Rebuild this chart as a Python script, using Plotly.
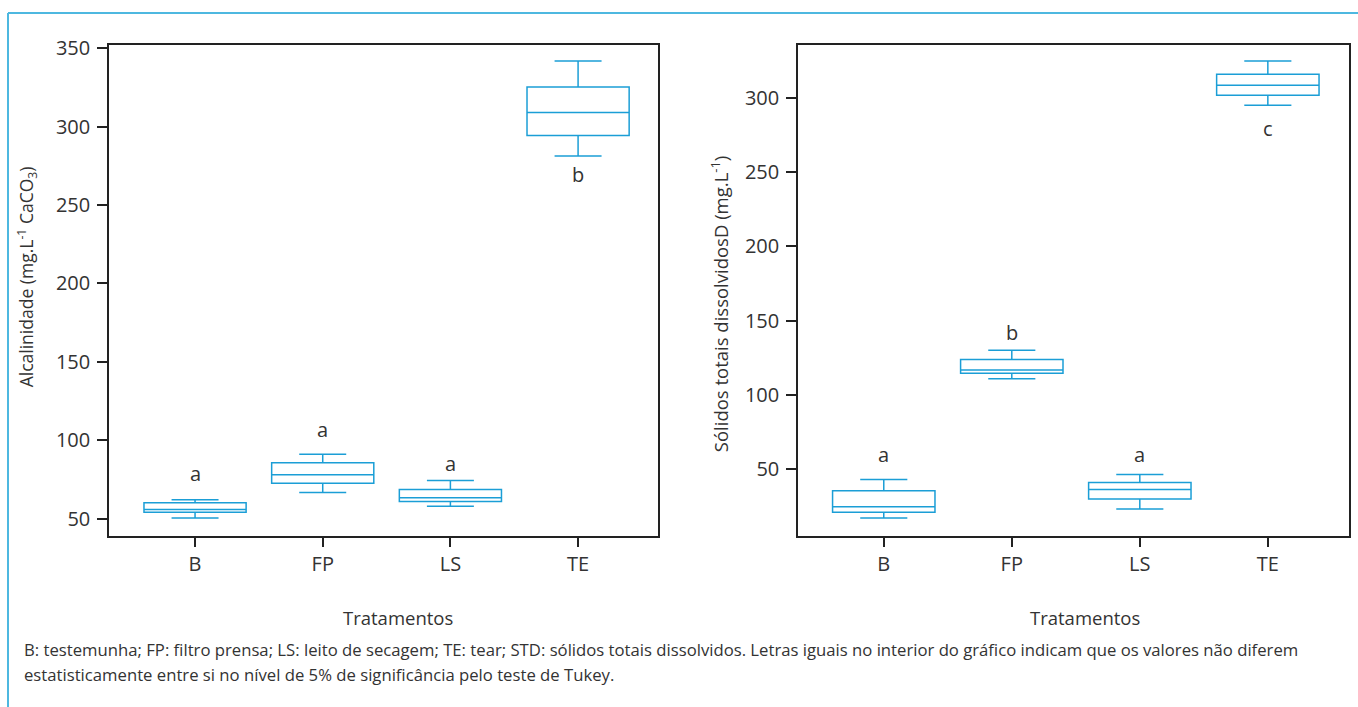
import plotly.graph_objects as go

# ---- data ----
categories = ["B", "FP", "LS", "TE"]

# Alcalinidade (mg.L-1 CaCO3)
alc_lower = [50.6, 66.8, 58.0, 281.2]
alc_q1 = [54.2, 72.7, 61.0, 294.3]
alc_median = [55.9, 78.1, 63.4, 309.0]
alc_q3 = [60.2, 85.8, 68.7, 325.2]
alc_upper = [62.1, 91.1, 74.5, 341.8]
alc_letters = ["a", "a", "a", "b"]
alc_letter_y = [78.9, 107.0, 85.3, 269.4]

# Sólidos totais dissolvidos (mg.L-1)
std_lower = [17.1, 110.8, 23.2, 295.0]
std_q1 = [20.9, 114.6, 29.9, 301.7]
std_median = [24.7, 116.8, 36.3, 308.4]
std_q3 = [35.4, 123.8, 41.0, 315.8]
std_upper = [43.0, 130.1, 46.4, 324.7]
std_letters = ["a", "b", "a", "c"]
std_letter_y = [59.6, 141.7, 59.6, 279.3]

alc_ticks = [50, 100, 150, 200, 250, 300, 350]
std_ticks = [50, 100, 150, 200, 250, 300]

caption_1 = ("B: testemunha; FP: filtro prensa; LS: leito de secagem; TE: tear; STD: sólidos totais dissolvidos. "
             "Letras iguais no interior do gráfico indicam que os valores não diferem")
caption_2 = "estatisticamente entre si no nível de 5% de significância pelo teste de Tukey."

# ---- style ----
W, H = 1358, 707
BOX = "#1B9ED6"
FRAME = "#4DB8E0"
TXT = "#333333"
FONT = "Open Sans"
WT = 400

def f(size):
    return dict(family=FONT, size=size, color=TXT, weight=WT)

fig = go.Figure()

def add_box(xa, ya, lo, q1, med, q3, up):
    fig.add_trace(go.Box(
        x=categories, lowerfence=lo, q1=q1, median=med, q3=q3, upperfence=up,
        xaxis=xa, yaxis=ya, width=0.8, whiskerwidth=0.46,
        line=dict(color=BOX, width=1.5), fillcolor="rgba(255,255,255,0)",
        boxpoints=False, showlegend=False, hoverinfo="skip"))

add_box("x", "y", alc_lower, alc_q1, alc_median, alc_q3, alc_upper)
add_box("x2", "y2", std_lower, std_q1, std_median, std_q3, std_upper)

# pixel -> paper helpers (vertical positions slightly compensated for the capture)
px = lambda v: v / W
py = lambda v: 1 - ((v - 9) / 0.987) / H

axis_common = dict(showline=True, mirror=True, linecolor="#222222", linewidth=1.5,
                   ticks="outside", ticklen=10, tickwidth=1.5, tickcolor="#222222",
                   showgrid=False, zeroline=False, tickfont=f(20))

fig.update_layout(
    width=W, height=H, margin=dict(l=0, r=0, t=0, b=0),
    paper_bgcolor="white", plot_bgcolor="white",
    font=f(16),
    xaxis=dict(domain=[px(109), px(658)], anchor="y", type="category",
               categoryorder="array", categoryarray=categories,
               range=[-0.674, 3.626], **axis_common),
    yaxis=dict(domain=[py(535), py(43)], anchor="x", range=[39.3, 352],
               tickvals=alc_ticks, ticklabelstandoff=3, **axis_common),
    xaxis2=dict(domain=[px(798), px(1349)], anchor="y2", type="category",
                categoryorder="array", categoryarray=categories,
                range=[-0.67, 3.634], **axis_common),
    yaxis2=dict(domain=[py(535), py(43)], anchor="x2", range=[5.2, 335.6],
                tickvals=std_ticks, ticklabelstandoff=3, **axis_common),
)

ann = []
for c, t, y in zip(categories, alc_letters, alc_letter_y):
    ann.append(dict(x=c, y=y, xref="x", yref="y", text=t, showarrow=False,
                    xanchor="center", yanchor="middle", font=f(20)))
for c, t, y in zip(categories, std_letters, std_letter_y):
    ann.append(dict(x=c, y=y, xref="x2", yref="y2", text=t, showarrow=False,
                    xanchor="center", yanchor="middle", font=f(20)))

# axis titles
ann.append(dict(x=px(27), y=py(276), xref="paper", yref="paper",
                text="Alcalinidade (mg.L<sup>-1</sup> CaCO<sub>3</sub>)", textangle=-90,
                xanchor="center", yanchor="middle", showarrow=False, font=f(17.5)))
ann.append(dict(x=px(719), y=py(303), xref="paper", yref="paper",
                text="Sólidos totais dissolvidosD (mg.L<sup>-1</sup>)", textangle=-90,
                xanchor="center", yanchor="middle", showarrow=False, font=f(18.5)))
ann.append(dict(x=px(398), y=py(617), xref="paper", yref="paper", text="Tratamentos",
                xanchor="center", yanchor="middle", showarrow=False, font=f(18.5)))
ann.append(dict(x=px(1085), y=py(617), xref="paper", yref="paper", text="Tratamentos",
                xanchor="center", yanchor="middle", showarrow=False, font=f(18.5)))
# caption
ann.append(dict(x=px(22), y=py(649), xref="paper", yref="paper", text=caption_1,
                xanchor="left", yanchor="middle", showarrow=False, font=f(16.7)))
ann.append(dict(x=px(22), y=py(674), xref="paper", yref="paper", text=caption_2,
                xanchor="left", yanchor="middle", showarrow=False, font=f(16.7)))
fig.update_layout(annotations=ann)

# outer bracket frame
fig.add_shape(type="line", xref="paper", yref="paper", x0=px(8), x1=px(8), y0=py(11), y1=0,
              line=dict(color=FRAME, width=2))
fig.add_shape(type="line", xref="paper", yref="paper", x0=px(8), x1=1, y0=py(11), y1=py(11),
              line=dict(color=FRAME, width=2))

fig.write_html(
    "out.html",
    config={"displayModeBar": False},
    post_script=("var d=document.getElementById('{plot_id}');"
                 "d.style.position='fixed';d.style.top='0';d.style.left='0';"
                 "document.body.style.margin='0';"
                 "document.documentElement.style.overflow='hidden';"
                 "document.body.style.overflow='hidden';"),
)
